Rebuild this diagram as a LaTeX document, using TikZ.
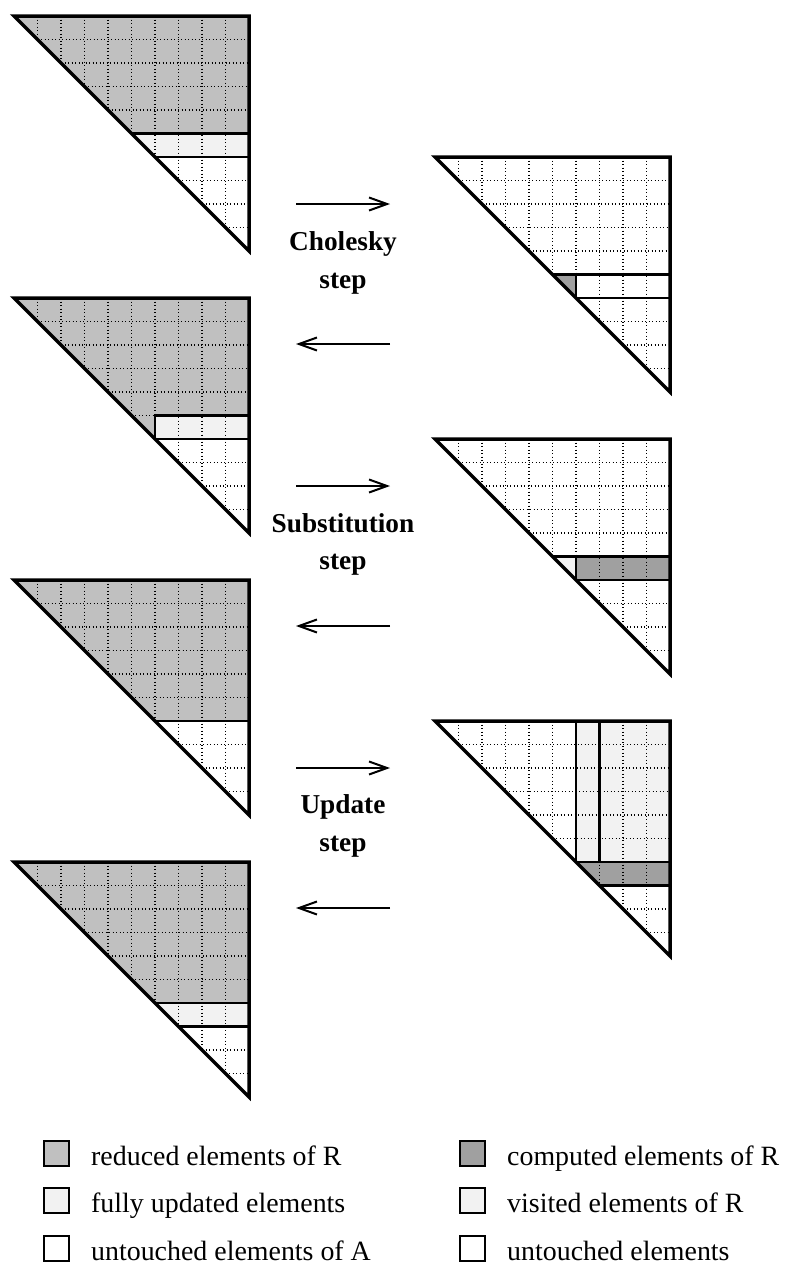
\documentclass[tikz,border=0pt]{standalone}
\usepackage{fontspec}
\setmainfont{Liberation Serif}
\usetikzlibrary{arrows.meta}
\definecolor{reduced}{HTML}{C0C0C0}
\definecolor{lightel}{HTML}{F2F2F2}
\definecolor{computed}{HTML}{A0A0A0}
\tikzset{
  outline/.style={line width=3.5bp, line join=miter},
  solidline/.style={line width=2.2bp},
  gridline/.style={line width=1.1bp, dash pattern=on 1.2bp off 2.3bp},
  steparrow/.style={line width=2bp, -{Straight Barb[length=18bp,width=13bp,line width=2bp]}},
  steplabel/.style={font=\fontsize{27.4}{33}\selectfont\bfseries, anchor=base, inner sep=0pt},
  legtext/.style={font=\fontsize{28}{33}\selectfont, anchor=base west, inner sep=0pt},
  legbox/.style={draw, line width=2bp, minimum size=25bp, inner sep=0pt, anchor=south west}
}
\newcommand\trigrid{%
  \foreach \k in {1,...,9} {%
    \draw[gridline] (\k,0)--(\k,\k);
    \draw[gridline] (\k,\k)--(10,\k);
  }}
\newcommand\trioutline{\draw[outline] (0,0)--(10,0)--(10,10)--cycle;}
\begin{document}
\begin{tikzpicture}[x=1bp,y=-1bp]
\useasboundingbox (0,0) rectangle (785,1264);

% ---------- left column ----------
% L1
\begin{scope}[shift={(14,16)},x=23.5bp,y=-23.5bp]
  \fill[reduced] (0,0)--(10,0)--(10,5)--(5,5)--cycle;
  \fill[lightel] (5,5)--(10,5)--(10,6)--(6,6)--cycle;
  \trigrid
  \draw[solidline] (5,5)--(10,5);
  \draw[solidline] (6,6)--(10,6);
  \trioutline
\end{scope}
% L2
\begin{scope}[shift={(14,298)},x=23.5bp,y=-23.5bp]
  \fill[reduced] (0,0)--(10,0)--(10,5)--(6,5)--(6,6)--cycle;
  \fill[lightel] (6,5) rectangle (10,6);
  \trigrid
  \draw[solidline] (6,6)--(6,5)--(10,5);
  \draw[solidline] (6,6)--(10,6);
  \trioutline
\end{scope}
% L3
\begin{scope}[shift={(14,580)},x=23.5bp,y=-23.5bp]
  \fill[reduced] (0,0)--(10,0)--(10,6)--(6,6)--cycle;
  \trigrid
  \draw[solidline] (6,6)--(10,6);
  \trioutline
\end{scope}
% L4
\begin{scope}[shift={(14,862)},x=23.5bp,y=-23.5bp]
  \fill[reduced] (0,0)--(10,0)--(10,6)--(6,6)--cycle;
  \fill[lightel] (6,6)--(10,6)--(10,7)--(7,7)--cycle;
  \trigrid
  \draw[solidline] (6,6)--(10,6);
  \draw[solidline] (7,7)--(10,7);
  \trioutline
\end{scope}

% ---------- right column ----------
% R1
\begin{scope}[shift={(435,157)},x=23.5bp,y=-23.5bp]
  \fill[computed] (5,5)--(6,5)--(6,6)--cycle;
  \trigrid
  \draw[solidline] (5,5)--(10,5);
  \draw[solidline] (6,6)--(10,6);
  \draw[solidline] (6,5)--(6,6);
  \trioutline
\end{scope}
% R2
\begin{scope}[shift={(435,439)},x=23.5bp,y=-23.5bp]
  \fill[lightel] (5,5)--(6,5)--(6,6)--cycle;
  \fill[computed] (6,5) rectangle (10,6);
  \trigrid
  \draw[solidline] (5,5)--(10,5);
  \draw[solidline] (6,6)--(10,6);
  \draw[solidline] (6,5)--(6,6);
  \trioutline
\end{scope}
% R3
\begin{scope}[shift={(435,721)},x=23.5bp,y=-23.5bp]
  \fill[lightel] (6,0) rectangle (10,6);
  \fill[computed] (6,6)--(10,6)--(10,7)--(7,7)--cycle;
  \trigrid
  \draw[solidline] (6,0)--(6,6);
  \draw[solidline] (7,0)--(7,6);
  \draw[solidline] (6,6)--(10,6);
  \draw[solidline] (7,7)--(10,7);
  \trioutline
\end{scope}

% ---------- arrows and labels ----------
\coordinate (a1s) at (296,204); \coordinate (a1e) at (390,204);
\coordinate (b1s) at (390,344); \coordinate (b1e) at (296,344);
\coordinate (a2s) at (296,486); \coordinate (a2e) at (390,486);
\coordinate (b2s) at (390,626); \coordinate (b2e) at (296,626);
\coordinate (a3s) at (296,768); \coordinate (a3e) at (390,768);
\coordinate (b3s) at (390,908); \coordinate (b3e) at (296,908);
\draw[steparrow] (a1s)--(a1e);
\draw[steparrow] (b1s)--(b1e);
\draw[steparrow] (a2s)--(a2e);
\draw[steparrow] (b2s)--(b2e);
\draw[steparrow] (a3s)--(a3e);
\draw[steparrow] (b3s)--(b3e);

\node[steplabel] (t1) at (343,250.7) {Cholesky};
\node[steplabel] (s1) at (343,288) {step};
\node[steplabel] (t2) at (343,532.2) {Substitution};
\node[steplabel] (s2) at (343,569.5) {step};
\node[steplabel] (t3) at (343,813.7) {Update};
\node[steplabel] (s3) at (343,851) {step};

% ---------- legend ----------
\node[legbox, fill=reduced]  (lb1) at (43,1167) {};
\node[legbox, fill=lightel]  (lb2) at (43,1214) {};
\node[legbox, fill=white]    (lb3) at (43,1262) {};
\node[legtext] (lt1) at (91,1165) {reduced elements of R};
\node[legtext] (lt2) at (91,1212) {fully updated elements};
\node[legtext] (lt3) at (91,1260) {untouched elements of A};

\node[legbox, fill=computed] (rb1) at (459,1167) {};
\node[legbox, fill=lightel]  (rb2) at (459,1214) {};
\node[legbox, fill=white]    (rb3) at (459,1262) {};
\node[legtext] (rt1) at (507,1165) {computed elements of R};
\node[legtext] (rt2) at (507,1212) {visited elements of R};
\node[legtext] (rt3) at (507,1260) {untouched elements};
\end{tikzpicture}
\end{document}
